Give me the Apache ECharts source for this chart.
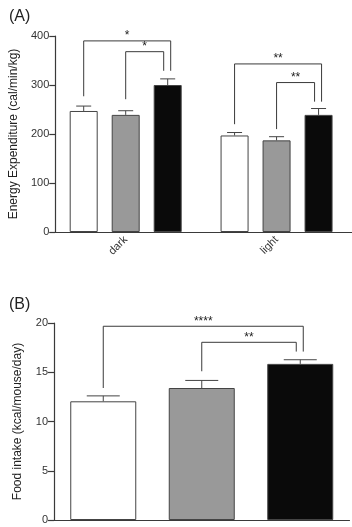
<!DOCTYPE html>
<html>
<head>
<meta charset="utf-8">
<script src="https://cdn.jsdelivr.net/npm/echarts@6/dist/echarts.min.js"></script>
<style>
	html, body { margin: 0; padding: 0; background: #fff; }
	#chart { width: 352px; height: 527px; }
</style>
</head>
<body>
<div id="chart"></div>
<script>
	// (A) energy expenditure, one array per group, [dark, light]
	var periods = ['dark', 'light'];
	var eeWhite = [247, 197];
	var eeWhiteSem = [10, 6];
	var eeGray = [239, 187];
	var eeGraySem = [8.5, 7.5];
	var eeBlack = [300, 239];
	var eeBlackSem = [12.5, 13];
	var eeTicks = [0, 100, 200, 300, 400];

	// (B) food intake, one value per group
	var groups = ['', '', ''];
	var foodMean = [12.05, 13.4, 15.85];
	var foodSem = [0.55, 0.77, 0.42];
	var foodTicks = [0, 5, 10, 15, 20];

	// significance brackets: [category, fromBar, toBar, top, leftEnd, rightEnd], label
	var eeBrackets = [
		[0, 0, 2, 390, 277, 329], [0, 1, 2, 368, 271, 329],
		[1, 0, 2, 343, 220, 266], [1, 1, 2, 305, 210, 266]
	];
	var eeStars = ['*', '*', '**', '**'];
	var foodBrackets = [
		[0, 0, 2, 19.67, 13.4, 17.1], [1, 1, 2, 18.04, 15.1, 17.1]
	];
	var foodStars = ['****', '**'];

	var fills = ['#ffffff', '#999999', '#0a0a0a'];
	var edge = '#444444';
	var axisColor = '#3a3a3a';
	var font = '"Liberation Sans", Arial, sans-serif';

	var chart = echarts.init(document.getElementById('chart'));

	// bar width in px and the step between bars of one group in panel A
	var barA = 28, stepA = 42;

	function errorSeries(xi, yi, means, sems, barIndex, nBars, step, capW) {
		var data = means.map(function (m, i) { return [i, m, sems[i]]; });
		return {
			type: 'custom',
			xAxisIndex: xi,
			yAxisIndex: yi,
			data: data,
			z: 5,
			renderItem: function (params, api) {
				var off = (barIndex - (nBars - 1) / 2) * step;
				var p0 = api.coord([api.value(0), api.value(1)]);
				var p1 = api.coord([api.value(0), api.value(1) + api.value(2)]);
				var x = p0[0] + off;
				return {
					type: 'group',
					children: [
						{ type: 'line', shape: { x1: x, y1: p0[1], x2: x, y2: p1[1] }, style: { stroke: edge, lineWidth: 1 } },
						{ type: 'line', shape: { x1: x - capW / 2, y1: p1[1], x2: x + capW / 2, y2: p1[1] }, style: { stroke: edge, lineWidth: 1 } }
					]
				};
			}
		};
	}

	function bracketSeries(xi, yi, brackets, stars, nBars, step) {
		return {
			type: 'custom',
			xAxisIndex: xi,
			yAxisIndex: yi,
			data: brackets,
			z: 6,
			renderItem: function (params, api) {
				var b = brackets[params.dataIndex];
				var nudge = b[1] === 0 ? 3 : -4;
				var cat0 = b[0], cat1 = b[0];
				var offL = (b[1] - (nBars - 1) / 2) * step;
				var offR = (b[2] - (nBars - 1) / 2) * step;
				if (nBars === 1) { cat0 = b[1]; cat1 = b[2]; offL = 0; offR = 0; }
				var xl = api.coord([cat0, b[3]])[0] + offL;
				var xr = api.coord([cat1, b[3]])[0] + offR + nudge;
				var yt = api.coord([cat0, b[3]])[1];
				var yl = api.coord([cat0, b[4]])[1];
				var yr = api.coord([cat0, b[5]])[1];
				return {
					type: 'group',
					children: [
						{ type: 'polyline', shape: { points: [[xl, yl], [xl, yt], [xr, yt], [xr, yr]] }, style: { stroke: axisColor, fill: null, lineWidth: 1 } },
						{ type: 'text', style: { text: stars[params.dataIndex], x: (xl + xr) / 2, y: yt + 1, align: 'center', verticalAlign: 'bottom', font: '12px ' + font, fill: '#222' } }
					]
				};
			}
		};
	}

	function barSeries(values, color) {
		return {
			type: 'bar',
			xAxisIndex: 0,
			yAxisIndex: 0,
			data: values,
			barWidth: barA,
			barGap: '50%',
			itemStyle: { color: color, borderColor: edge, borderWidth: 1 }
		};
	}

	var yAxisBase = {
		axisLine: { show: true, lineStyle: { color: axisColor, width: 1.2 } },
		axisTick: { show: true, length: 6, lineStyle: { color: axisColor, width: 1.2 } },
		splitLine: { show: false },
		axisLabel: { color: '#333', fontSize: 11, fontFamily: font, margin: 6 },
		nameLocation: 'middle',
		nameRotate: 90,
		nameGap: 30,
		nameTextStyle: { color: '#222', fontSize: 12, fontFamily: font }
	};

	var option = {
		animation: false,
		backgroundColor: '#fff',
		title: [
			{ text: '(A)', left: 4, top: 4, textStyle: { fontSize: 16, fontWeight: 'normal', color: '#222', fontFamily: font } },
			{ text: '(B)', left: 4, top: 292, textStyle: { fontSize: 16, fontWeight: 'normal', color: '#222', fontFamily: font } }
		],
		grid: [
			{ left: 49, right: -6, top: 36, height: 196 },
			{ left: 54, right: 2.5, top: 323, height: 197 }
		],
		xAxis: [
			{
				type: 'category',
				gridIndex: 0,
				data: periods,
				axisLine: { lineStyle: { color: axisColor, width: 1.2 } },
				axisTick: { alignWithLabel: true, length: 5, lineStyle: { color: axisColor, width: 1.2 } },
				axisLabel: { rotate: 45, color: '#333', fontSize: 11, fontFamily: font, margin: 6 }
			},
			{
				type: 'category',
				gridIndex: 1,
				data: groups,
				axisLine: { lineStyle: { color: axisColor, width: 1.2 } },
				axisTick: { show: false },
				axisLabel: { show: false }
			}
		],
		yAxis: [
			Object.assign({}, yAxisBase, {
				type: 'value',
				gridIndex: 0,
				offset: -5,
				min: eeTicks[0],
				max: eeTicks[eeTicks.length - 1],
				interval: eeTicks[1] - eeTicks[0],
				name: 'Energy Expenditure (cal/min/kg)'
			}),
			Object.assign({}, yAxisBase, {
				type: 'value',
				gridIndex: 1,
				min: foodTicks[0],
				max: foodTicks[foodTicks.length - 1],
				interval: foodTicks[1] - foodTicks[0],
				name: 'Food intake (kcal/mouse/day)'
			})
		],
		series: [
			barSeries(eeWhite, fills[0]),
			barSeries(eeGray, fills[1]),
			barSeries(eeBlack, fills[2]),
			errorSeries(0, 0, eeWhite, eeWhiteSem, 0, 3, stepA, 15),
			errorSeries(0, 0, eeGray, eeGraySem, 1, 3, stepA, 15),
			errorSeries(0, 0, eeBlack, eeBlackSem, 2, 3, stepA, 15),
			bracketSeries(0, 0, eeBrackets, eeStars, 3, stepA),
			{
				type: 'bar',
				xAxisIndex: 1,
				yAxisIndex: 1,
				barWidth: 66,
				data: foodMean.map(function (v, i) {
					return { value: v, itemStyle: { color: fills[i] } };
				}),
				itemStyle: { borderColor: edge, borderWidth: 1 }
			},
			errorSeries(1, 1, foodMean, foodSem, 0, 1, 0, 33),
			bracketSeries(1, 1, foodBrackets, foodStars, 1, 0)
		]
	};

	chart.setOption(option);
	window.addEventListener('resize', function () {
		chart.resize();
	});
</script>
</body>
</html>
